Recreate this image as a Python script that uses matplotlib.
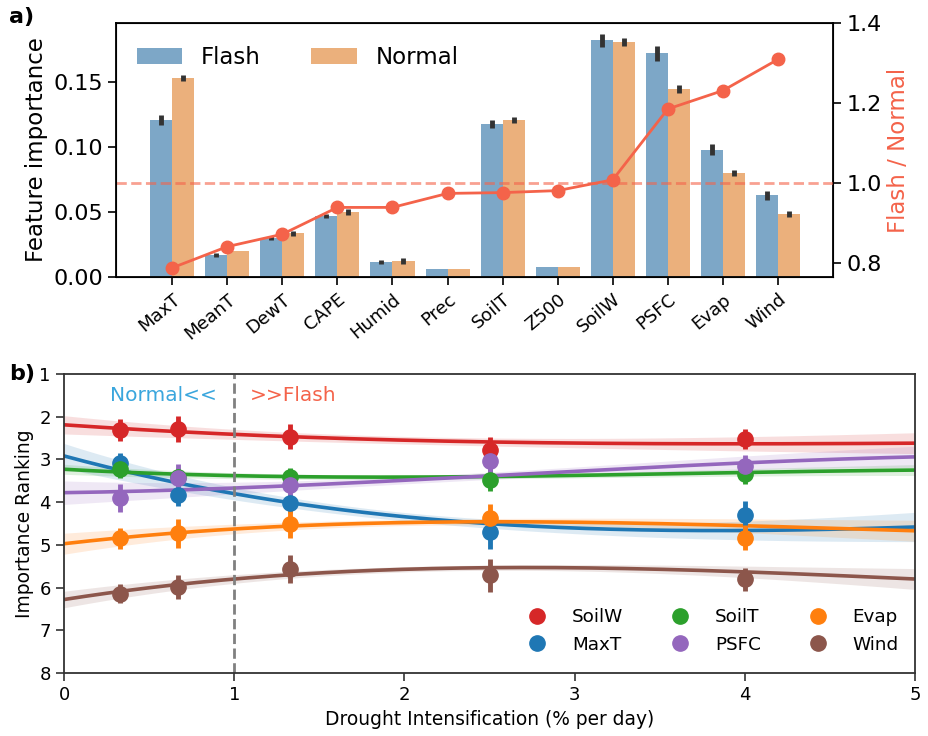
import numpy as np
import matplotlib
matplotlib.use('Agg')
import matplotlib.pyplot as plt
from matplotlib.lines import Line2D

# ---- panel a data ----
features = ['MaxT', 'MeanT', 'DewT', 'CAPE', 'Humid', 'Prec', 'SoilT', 'Z500', 'SoilW', 'PSFC', 'Evap', 'Wind']
flash_imp = [0.121, 0.017, 0.030, 0.047, 0.0115, 0.006, 0.118, 0.008, 0.182, 0.172, 0.098, 0.063]
flash_err = [0.004, 0.0015, 0.0015, 0.0015, 0.0015, 0.0, 0.003, 0.0, 0.005, 0.0058, 0.0042, 0.0035]
normal_imp = [0.153, 0.020, 0.0335, 0.050, 0.0123, 0.006, 0.1208, 0.008, 0.1808, 0.1446, 0.080, 0.0485]
normal_err = [0.0025, 0.0, 0.002, 0.002, 0.002, 0.0, 0.002, 0.0, 0.003, 0.0032, 0.0023, 0.0024]
ratio = [0.788, 0.841, 0.872, 0.939, 0.939, 0.974, 0.976, 0.981, 1.008, 1.185, 1.231, 1.309]

# ---- panel b data ----
rate = [0.33, 0.67, 1.33, 2.5, 4.0]
names = ['SoilW', 'MaxT', 'SoilT', 'PSFC', 'Evap', 'Wind']
colors = ['tab:red', 'tab:blue', 'tab:green', 'tab:purple', 'tab:orange', 'tab:brown']
rank_mean = {
    'SoilW': [2.31, 2.29, 2.47, 2.78, 2.52],
    'MaxT': [3.09, 3.83, 4.03, 4.71, 4.29],
    'SoilT': [3.23, 3.40, 3.42, 3.48, 3.35],
    'PSFC': [3.91, 3.44, 3.60, 3.03, 3.16],
    'Evap': [4.85, 4.73, 4.51, 4.38, 4.83],
    'Wind': [6.14, 5.98, 5.57, 5.71, 5.81],
}
rank_err = {
    'SoilW': [0.25, 0.30, 0.29, 0.30, 0.24],
    'MaxT': [0.23, 0.27, 0.23, 0.39, 0.32],
    'SoilT': [0.20, 0.20, 0.22, 0.26, 0.23],
    'PSFC': [0.33, 0.33, 0.33, 0.33, 0.27],
    'Evap': [0.25, 0.34, 0.33, 0.33, 0.30],
    'Wind': [0.23, 0.28, 0.33, 0.39, 0.27],
}
fit_x = [0, 1, 2, 3, 4, 5]
fit_y = {
    'SoilW': [2.19, 2.41, 2.55, 2.62, 2.63, 2.62],
    'MaxT': [2.91, 3.83, 4.30, 4.63, 4.66, 4.58],
    'SoilT': [3.23, 3.38, 3.41, 3.38, 3.30, 3.25],
    'PSFC': [3.78, 3.66, 3.50, 3.27, 3.08, 2.94],
    'Evap': [4.97, 4.64, 4.46, 4.48, 4.55, 4.67],
    'Wind': [6.28, 5.80, 5.57, 5.54, 5.63, 5.80],
}
fit_ci = {
    'SoilW': [0.22, 0.10, 0.10, 0.12, 0.15, 0.25],
    'MaxT': [0.30, 0.12, 0.12, 0.14, 0.20, 0.35],
    'SoilT': [0.12, 0.06, 0.06, 0.06, 0.08, 0.13],
    'PSFC': [0.28, 0.12, 0.10, 0.10, 0.15, 0.25],
    'Evap': [0.25, 0.10, 0.08, 0.10, 0.15, 0.25],
    'Wind': [0.20, 0.08, 0.08, 0.08, 0.12, 0.25],
}

fig = plt.figure(figsize=(9.29, 7.36), dpi=100)

# ---------------- panel a ----------------
ax1 = fig.add_axes([0.1249, 0.6236, 0.7718, 0.3452])
x = np.arange(len(features))
w = 0.4
ax1.bar(x - w / 2, flash_imp, w, color='#7da7c7', label='Flash')
ax1.bar(x + w / 2, normal_imp, w, color='#ebb07c', label='Normal')
ax1.errorbar(x - w / 2, flash_imp, yerr=flash_err, fmt='none', ecolor='#333333', elinewidth=3.5, capsize=0)
ax1.errorbar(x + w / 2, normal_imp, yerr=normal_err, fmt='none', ecolor='#333333', elinewidth=3.5, capsize=0)
ax1.set_xlim(-1.02, 12.0)
ax1.set_ylim(0, 0.1954)
ax1.set_yticks([0, 0.05, 0.10, 0.15])
ax1.set_xticks(x)
ax1.set_xticklabels(features, rotation=40, ha='right', rotation_mode='anchor', fontsize=13)
ax1.tick_params(axis='y', labelsize=16, length=6, width=1.2)
ax1.tick_params(axis='x', length=6, width=1.2)
ax1.set_ylabel('Feature importance', fontsize=16.5)
ax1.legend(ncol=2, frameon=False, loc='upper left', fontsize=16.5, handlelength=2.0,
           columnspacing=2.2, bbox_to_anchor=(0.0, 0.99))
for s in ax1.spines.values():
    s.set_linewidth(1.3)

ax2 = ax1.twinx()
tomato = '#f4634a'
ax2.axhline(1.0, color=tomato, alpha=0.6, lw=2, ls='--')
ax2.plot(x, ratio, 'o-', color=tomato, lw=2, ms=9)
ax2.set_ylim(0.765, 1.4)
ax2.set_yticks([0.8, 1.0, 1.2, 1.4])
ax2.tick_params(axis='y', labelsize=16, length=6, width=1.2)
ax2.set_ylabel('Flash / Normal', fontsize=16.5, color=tomato)

# ---------------- panel b ----------------
ax3 = fig.add_axes([0.0689, 0.0856, 0.9161, 0.4062])
xs = np.linspace(0, 5, 200)
for name, c in zip(names, colors):
    cy = np.polyval(np.polyfit(fit_x, fit_y[name], 3), xs)
    ci = np.polyval(np.polyfit(fit_x, fit_ci[name], 3), xs)
    ax3.fill_between(xs, cy - ci, cy + ci, color=c, alpha=0.15, lw=0)
    ax3.plot(xs, cy, color=c, lw=2.6)
for name, c in zip(names, colors):
    ax3.errorbar(rate, rank_mean[name], yerr=rank_err[name], fmt='o', color=c,
                 ms=11, elinewidth=3.5, capsize=0)
ax3.axvline(1, color='grey', ls='--', lw=2)
ax3.text(0.9, 1.5, 'Normal<<', color='#3aa6dd', fontsize=14.5, ha='right', va='center')
ax3.text(1.09, 1.5, '>>Flash', color=tomato, fontsize=14.5, ha='left', va='center')
ax3.set_xlim(0, 5)
ax3.set_ylim(8, 1)
ax3.set_yticks(range(1, 9))
ax3.tick_params(labelsize=13, length=6, width=1.2, color='#333333')
ax3.set_ylabel('Importance Ranking', fontsize=13.4)
ax3.set_xlabel('Drought Intensification (% per day)', fontsize=13.4)
for s in ax3.spines.values():
    s.set_color('#333333')
    s.set_linewidth(1.3)

handles = [Line2D([], [], marker='o', ls='none', color=c, ms=11) for c in colors]
ax3.legend(handles, names, ncol=3, frameon=False, loc='lower right', fontsize=13.2,
           handletextpad=0.9, columnspacing=2.1, labelspacing=0.5,
           bbox_to_anchor=(1.0, 0.01))

fig.text(0.01, 0.99, 'a)', fontsize=16, fontweight='bold', va='top')
fig.text(0.01, 0.505, 'b)', fontsize=16, fontweight='bold', va='top')

fig.savefig('out.png', dpi=100)
